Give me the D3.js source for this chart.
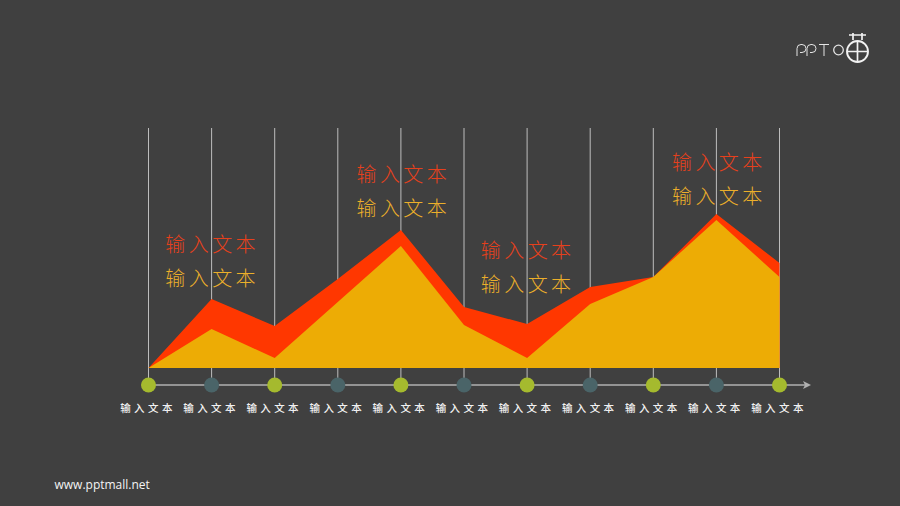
<!DOCTYPE html>
<html><head><meta charset="utf-8">
<script src="https://d3js.org/d3.v7.min.js"></script>
<style>html,body{margin:0;padding:0;background:#404040}svg{display:block}
text{font-family:"Noto Sans CJK SC","Noto Sans",sans-serif;opacity:.995}</style></head>
<body><script>
const categories=["c0","c1","c2","c3","c4","c5","c6","c7","c8","c9","c10"];
const tickLabel="输入文本";
const redValues=[0,69,42,89,138,61,44,81,91,154,105];
const amberValues=[0,39,10,66,122,43,10,64,91,148,91];
const calloutIndex=[0.99,4.02,5.99,9.02];
const calloutTop=[124,194,118,206];
const calloutBottom=[90,160,84,172];
const gridTop=240;

const W=900,H=506;
const svg=d3.select("body").append("svg").attr("width",W).attr("height",H);
svg.append("rect").attr("width",W).attr("height",H).attr("fill","#404040");
const x=d3.scalePoint().domain(categories).range([148.5,779.5]);
const xi=d3.scaleLinear().domain([0,categories.length-1]).range([148.5,779.5]);
const y=d3.scaleLinear().domain([0,240]).range([368,128]);
const axisY=385;

// vertical guides
svg.append("g").selectAll("line").data(categories).join("line")
 .attr("x1",d=>x(d)).attr("x2",d=>x(d)).attr("y1",y(gridTop)).attr("y2",axisY)
 .attr("stroke","#bdbdbd").attr("stroke-width",1);

const area=d3.area().x((d,i)=>x(categories[i])).y0(y(0)).y1(d=>y(d));
svg.append("path").datum(redValues).attr("d",area).attr("fill","#FF3700");
svg.append("path").datum(amberValues).attr("d",area).attr("fill","#EDAC05");

// axis
const axis=d3.axisBottom(x).tickSize(0).tickPadding(20).tickFormat(()=>tickLabel);
const gA=svg.append("g").attr("transform",`translate(0,${axisY})`).call(axis);
gA.select(".domain").remove();
gA.selectAll("text").attr("fill","#f2f2f2").attr("font-size",10.5).attr("letter-spacing",3.4)
  .attr("font-weight",500)
  .style("font-family",'"Noto Sans CJK SC",sans-serif').attr("dx",-1);
svg.append("line").attr("x1",148.5).attr("x2",808).attr("y1",axisY).attr("y2",axisY)
 .attr("stroke","#b0b0b0").attr("stroke-width",1.5);
svg.append("path").attr("d",`M803,381 L811,385 L803,389 L805,385 Z`).attr("fill","#b0b0b0");

// dots
svg.append("g").selectAll("circle").data(categories).join("circle")
 .attr("cx",d=>x(d)).attr("cy",axisY).attr("r",7.5)
 .attr("fill",(d,i)=>i%2?"#4A6468":"#A5BA2E");

// callouts
const big=(vals,col)=>svg.append("g").selectAll("text").data(calloutIndex).join("text")
 .attr("x",d=>xi(d)+1.2).attr("y",(d,i)=>y(vals[i])+8)
 .attr("text-anchor","middle").attr("font-size",20).attr("letter-spacing",3.4)
 .attr("font-weight",300).attr("fill",col).text(tickLabel);
big(calloutTop,"#E8401C");
big(calloutBottom,"#EDB02A");

// footer
svg.append("text").attr("x",54.5).attr("y",488.5).attr("fill","#f5f5f5").attr("font-size",12)
 .style("font-family",'"Open Sans",sans-serif').text("www.pptmall.net");

// logo
const logo=svg.append("g").attr("fill","none").attr("stroke","#e4e4e4");
logo.append("path").attr("stroke-width",1)
 .attr("d","M797,56V48.5a4,4 0 0 1 4,-4h1a4,4 0 0 1 0,8h-2M807,56V48.5a4,4 0 0 1 4,-4h1a4,4 0 0 1 0,8h-2M819,44.5H829M824,44.5V56");
logo.append("circle").attr("cx",838.5).attr("cy",50).attr("r",4.8).attr("stroke-width",1.3);
logo.append("circle").attr("cx",857.5).attr("cy",51.5).attr("r",10.5).attr("stroke-width",1.9).attr("stroke","#f2f2f2");
logo.append("path").attr("stroke-width",1.7).attr("stroke","#f2f2f2").attr("d","M847,51.5H868M857.5,41V62M849,35H866M853,33V40M862,33V40");
</script></body></html>
